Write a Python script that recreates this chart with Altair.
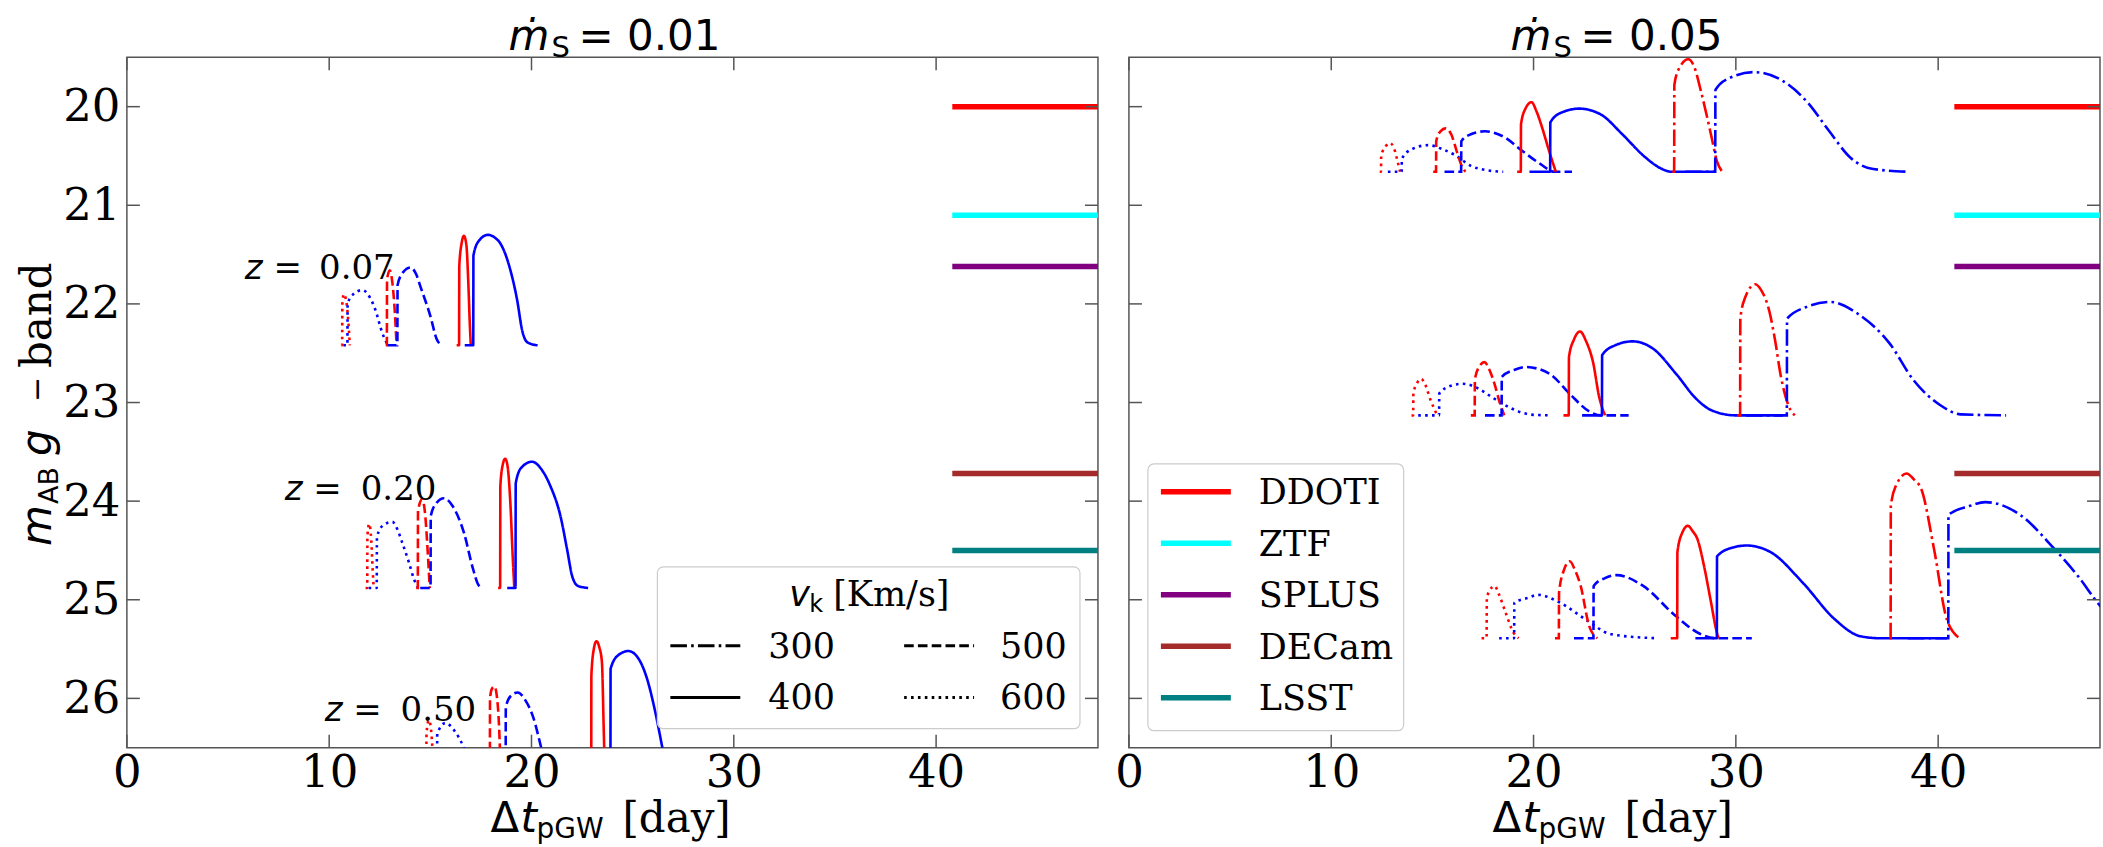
import altair as alt
import pandas as pd

# Axis ticks
x_ticks = [0, 10, 20, 30, 40]
y_ticks = [20, 21, 22, 23, 24, 25, 26]
x_domain = [0, 48]
y_domain = [19.5, 26.5]

# g-band light curves, (Δt_pGW [day], m_AB) pairs.
# ---- accretion rate ṁ_S = 0.01 ----
s001_z007_v600_red = [(10.60, 22.42), (10.64, 22.42), (10.65, 22.00), (10.72, 21.90), (10.85, 21.98), (10.97, 22.25), (11.02, 22.42)]
s001_z007_v600_blue = [(10.70, 22.42), (10.90, 22.42), (10.91, 22.00), (11.20, 21.90), (11.64, 21.86), (12.00, 21.93), (12.30, 22.07), (12.60, 22.28), (12.90, 22.42)]
s001_z007_v500_red = [(12.80, 22.42), (12.85, 22.42), (12.86, 21.75), (13.00, 21.66), (13.12, 21.78), (13.25, 22.10), (13.33, 22.42)]
s001_z007_v500_blue = [(12.90, 22.42), (13.37, 22.42), (13.38, 21.81), (13.65, 21.68), (14.02, 21.63), (14.30, 21.70), (14.52, 21.83), (15.01, 22.13), (15.30, 22.35), (15.55, 22.42)]
s001_z007_v400_red = [(16.30, 22.42), (16.42, 22.42), (16.43, 21.62), (16.55, 21.38), (16.66, 21.31), (16.78, 21.40), (16.88, 21.80), (16.95, 22.20), (17.00, 22.42)]
s001_z007_v400_blue = [(16.70, 22.42), (17.12, 22.42), (17.13, 21.51), (17.40, 21.36), (17.84, 21.30), (18.20, 21.33), (18.47, 21.39), (18.96, 21.66), (19.29, 21.96), (19.54, 22.27), (19.80, 22.39), (20.30, 22.42)]

s001_z020_v600_red = [(11.80, 24.88), (11.88, 24.88), (11.89, 24.35), (11.98, 24.23), (12.08, 24.40), (12.15, 24.70), (12.20, 24.88)]
s001_z020_v600_blue = [(11.95, 24.88), (12.35, 24.88), (12.36, 24.36), (12.70, 24.24), (13.12, 24.21), (13.40, 24.30), (13.61, 24.42), (13.94, 24.62), (14.19, 24.79), (14.40, 24.88)]
s001_z020_v500_red = [(14.30, 24.88), (14.38, 24.88), (14.39, 24.10), (14.60, 23.98), (14.75, 24.15), (14.88, 24.55), (14.97, 24.88)]
s001_z020_v500_blue = [(14.50, 24.88), (15.01, 24.88), (15.02, 24.15), (15.30, 24.02), (15.67, 23.97), (16.10, 24.05), (16.66, 24.32), (17.10, 24.68), (17.35, 24.84), (17.55, 24.88)]
s001_z020_v400_red = [(18.35, 24.88), (18.45, 24.88), (18.46, 23.85), (18.58, 23.63), (18.70, 23.57), (18.82, 23.65), (18.95, 24.00), (19.08, 24.60), (19.15, 24.88)]
s001_z020_v400_blue = [(18.80, 24.88), (19.21, 24.88), (19.22, 23.82), (19.50, 23.66), (20.03, 23.60), (20.50, 23.68), (20.94, 23.85), (21.43, 24.15), (21.76, 24.49), (22.01, 24.76), (22.30, 24.86), (22.80, 24.88)]

s001_z050_v600_red = [(14.78, 26.95), (14.80, 26.95), (14.81, 26.35), (14.93, 26.22), (15.05, 26.35), (15.20, 26.95)]
s001_z050_v600_blue = [(15.00, 26.95), (15.33, 26.95), (15.34, 26.36), (15.75, 26.25), (16.20, 26.33), (16.66, 26.50), (17.20, 26.80), (17.60, 26.95)]
s001_z050_v500_red = [(17.90, 26.95), (17.94, 26.95), (17.95, 26.00), (18.05, 25.90), (18.17, 25.88), (18.30, 26.00), (18.42, 26.40), (18.50, 26.95)]
s001_z050_v500_blue = [(18.30, 26.95), (18.72, 26.95), (18.73, 26.09), (19.00, 25.97), (19.32, 25.94), (19.70, 26.02), (20.10, 26.20), (20.48, 26.50), (20.90, 26.85), (21.30, 26.95)]
s001_z050_v400_red = [(22.90, 26.95), (22.95, 26.95), (22.96, 25.77), (23.08, 25.50), (23.21, 25.42), (23.35, 25.48), (23.48, 25.63), (23.57, 26.31), (23.65, 26.95)]
s001_z050_v400_blue = [(23.50, 26.95), (23.90, 26.95), (23.91, 25.70), (24.30, 25.56), (24.80, 25.52), (25.30, 25.60), (25.71, 25.80), (26.12, 26.14), (26.45, 26.48), (26.80, 26.85), (27.20, 26.95)]

# ---- accretion rate ṁ_S = 0.05 ----
s005_top_v600_red = [(12.40, 20.66), (12.46, 20.66), (12.47, 20.50), (12.70, 20.40), (12.90, 20.37), (13.10, 20.42), (13.25, 20.53), (13.40, 20.66)]
s005_top_v600_blue = [(12.80, 20.66), (13.48, 20.66), (13.49, 20.53), (14.00, 20.43), (14.80, 20.39), (15.48, 20.43), (16.19, 20.50), (16.90, 20.60), (17.70, 20.645), (18.50, 20.66)]
s005_top_v500_red = [(15.04, 20.66), (15.18, 20.66), (15.19, 20.35), (15.40, 20.25), (15.65, 20.22), (15.93, 20.28), (16.20, 20.45), (16.45, 20.60), (16.63, 20.66)]
s005_top_v500_blue = [(15.60, 20.66), (16.42, 20.66), (16.43, 20.35), (16.90, 20.28), (17.60, 20.25), (18.57, 20.31), (19.45, 20.45), (20.33, 20.58), (21.03, 20.66), (21.90, 20.66)]
s005_top_v400_red = [(19.19, 20.66), (19.37, 20.66), (19.38, 20.18), (19.60, 20.02), (19.90, 19.955), (20.15, 20.05), (20.42, 20.21), (20.77, 20.45), (21.10, 20.66)]
s005_top_v400_blue = [(19.80, 20.66), (20.82, 20.66), (20.83, 20.16), (21.38, 20.06), (22.27, 20.02), (23.33, 20.08), (24.39, 20.28), (25.45, 20.50), (26.33, 20.63), (26.80, 20.66), (28.97, 20.66)]
s005_top_v300_red = [(26.86, 20.66), (26.95, 20.66), (26.96, 19.78), (27.20, 19.61), (27.65, 19.52), (27.95, 19.60), (28.27, 19.84), (28.55, 20.08), (28.80, 20.31), (29.06, 20.55), (29.33, 20.66)]
s005_top_v300_blue = [(27.50, 20.66), (28.98, 20.66), (28.99, 19.83), (29.68, 19.71), (30.91, 19.65), (32.33, 19.74), (33.56, 19.96), (34.62, 20.25), (35.68, 20.52), (36.73, 20.63), (38.50, 20.66)]

s005_mid_v600_red = [(13.97, 23.13), (14.05, 23.13), (14.06, 22.91), (14.25, 22.80), (14.45, 22.76), (14.65, 22.82), (14.90, 22.97), (15.24, 23.13)]
s005_mid_v600_blue = [(14.30, 23.13), (15.33, 23.13), (15.34, 22.91), (15.92, 22.83), (16.51, 22.81), (17.29, 22.86), (17.90, 22.94), (18.46, 23.01), (19.24, 23.09), (20.00, 23.125), (20.79, 23.13)]
s005_mid_v500_red = [(16.90, 23.13), (17.09, 23.13), (17.10, 22.77), (17.30, 22.64), (17.58, 22.59), (17.80, 22.66), (18.07, 22.81), (18.30, 22.98), (18.55, 23.13)]
s005_mid_v500_blue = [(17.60, 23.13), (18.42, 23.13), (18.43, 22.74), (19.04, 22.67), (19.63, 22.64), (20.80, 22.71), (21.78, 22.91), (22.75, 23.09), (23.34, 23.13), (24.70, 23.13)]
s005_mid_v400_red = [(21.48, 23.13), (21.74, 23.13), (21.75, 22.54), (22.00, 22.36), (22.30, 22.28), (22.60, 22.38), (22.95, 22.60), (23.24, 22.94), (23.54, 23.13)]
s005_mid_v400_blue = [(22.40, 23.13), (23.38, 23.13), (23.39, 22.52), (24.03, 22.42), (24.90, 22.38), (25.88, 22.45), (27.05, 22.71), (28.03, 22.96), (28.81, 23.08), (29.98, 23.13), (32.33, 23.13)]
s005_mid_v300_red = [(30.07, 23.13), (30.21, 23.13), (30.22, 22.15), (30.47, 21.93), (30.96, 21.80), (31.25, 21.86), (31.65, 22.07), (31.94, 22.37), (32.23, 22.74), (32.62, 23.04), (32.91, 23.13)]
s005_mid_v300_blue = [(30.50, 23.13), (32.52, 23.13), (32.53, 22.15), (33.50, 22.03), (34.67, 21.98), (36.03, 22.10), (37.60, 22.40), (38.77, 22.77), (40.13, 23.03), (41.11, 23.12), (43.36, 23.13)]

s005_bot_v600_red = [(17.43, 25.39), (17.68, 25.39), (17.69, 24.99), (17.85, 24.90), (18.07, 24.86), (18.30, 24.95), (18.62, 25.13), (19.00, 25.33), (19.26, 25.39)]
s005_bot_v600_blue = [(18.30, 25.39), (19.04, 25.39), (19.05, 25.03), (19.74, 24.98), (20.21, 24.95), (21.31, 25.03), (22.58, 25.20), (23.84, 25.35), (26.05, 25.39)]
s005_bot_v500_red = [(21.06, 25.39), (21.25, 25.39), (21.26, 24.93), (21.50, 24.70), (21.79, 24.61), (22.05, 24.70), (22.33, 24.86), (22.74, 25.26), (23.15, 25.39)]
s005_bot_v500_blue = [(22.00, 25.39), (22.96, 25.39), (22.97, 24.86), (23.53, 24.78), (24.10, 24.75), (25.42, 24.86), (27.00, 25.16), (28.27, 25.35), (29.06, 25.39), (30.79, 25.39)]
s005_bot_v400_red = [(26.78, 25.39), (27.10, 25.39), (27.11, 24.52), (27.35, 24.32), (27.63, 24.25), (27.85, 24.30), (28.11, 24.39), (28.43, 24.66), (28.74, 24.99), (29.06, 25.33), (29.15, 25.39)]
s005_bot_v400_blue = [(28.00, 25.39), (29.06, 25.39), (29.07, 24.56), (29.85, 24.47), (30.54, 24.45), (31.74, 24.52), (33.32, 24.83), (34.90, 25.20), (36.16, 25.37), (37.12, 25.39), (40.43, 25.39)]
s005_bot_v300_red = [(37.60, 25.39), (37.65, 25.39), (37.66, 24.05), (37.90, 23.85), (38.44, 23.72), (38.80, 23.78), (39.17, 23.88), (39.80, 24.49), (40.43, 25.20), (41.06, 25.39)]
s005_bot_v300_blue = [(38.50, 25.39), (40.50, 25.39), (40.51, 24.14), (41.54, 24.05), (42.33, 24.01), (44.06, 24.14), (45.64, 24.46), (46.91, 24.76), (48.00, 25.06), (49.20, 25.30), (50.50, 25.39)]

# Survey limiting magnitudes
instr_names = ["DDOTI", "ZTF", "SPLUS", "DECam", "LSST"]
instr_mag = [20.0, 21.1, 21.62, 23.72, 24.5]
instr_colours = ["#ff0000", "#00ffff", "#800080", "#a52a2a", "#008080"]
instr_t_start = 40.8
instr_t_end = 48.0

# Kick velocities
vk_labels = ["300", "400", "500", "600"]

# Redshift annotations (left panel)
z_label_text = ["0.07", "0.20", "0.50"]
z_label_t_eq = [8.65, 10.62, 12.60]
z_label_t_num = [9.50, 11.56, 13.53]
z_label_m = [21.745, 23.985, 26.234]

curves_s001 = [
    ("600", "red", s001_z007_v600_red), ("600", "blue", s001_z007_v600_blue),
    ("500", "red", s001_z007_v500_red), ("500", "blue", s001_z007_v500_blue),
    ("400", "red", s001_z007_v400_red), ("400", "blue", s001_z007_v400_blue),
    ("600", "red", s001_z020_v600_red), ("600", "blue", s001_z020_v600_blue),
    ("500", "red", s001_z020_v500_red), ("500", "blue", s001_z020_v500_blue),
    ("400", "red", s001_z020_v400_red), ("400", "blue", s001_z020_v400_blue),
    ("600", "red", s001_z050_v600_red), ("600", "blue", s001_z050_v600_blue),
    ("500", "red", s001_z050_v500_red), ("500", "blue", s001_z050_v500_blue),
    ("400", "red", s001_z050_v400_red), ("400", "blue", s001_z050_v400_blue),
]
curves_s005 = [
    ("600", "red", s005_top_v600_red), ("600", "blue", s005_top_v600_blue),
    ("500", "red", s005_top_v500_red), ("500", "blue", s005_top_v500_blue),
    ("400", "red", s005_top_v400_red), ("400", "blue", s005_top_v400_blue),
    ("300", "red", s005_top_v300_red), ("300", "blue", s005_top_v300_blue),
    ("600", "red", s005_mid_v600_red), ("600", "blue", s005_mid_v600_blue),
    ("500", "red", s005_mid_v500_red), ("500", "blue", s005_mid_v500_blue),
    ("400", "red", s005_mid_v400_red), ("400", "blue", s005_mid_v400_blue),
    ("300", "red", s005_mid_v300_red), ("300", "blue", s005_mid_v300_blue),
    ("600", "red", s005_bot_v600_red), ("600", "blue", s005_bot_v600_blue),
    ("500", "red", s005_bot_v500_red), ("500", "blue", s005_bot_v500_blue),
    ("400", "red", s005_bot_v400_red), ("400", "blue", s005_bot_v400_blue),
    ("300", "red", s005_bot_v300_red), ("300", "blue", s005_bot_v300_blue),
]

# ---- styling ----
SANS, SERIF = "DejaVu Sans", "DejaVu Serif"
FRAME = "#555555"
W, H = 972, 691
TICK_LEN = 13
LINE_COLOURS = {"red": "#ff0000", "blue": "#0000ff"}
DASHES = {"300": [16.6, 4.2, 2.6, 4.2], "400": [1, 0], "500": [9.6, 4.2], "600": [2.6, 4.3]}
ONE = pd.DataFrame({"k": [0]})


def x_enc(field="t"):
    return alt.X(f"{field}:Q",
                 scale=alt.Scale(domain=x_domain, nice=False, zero=False),
                 axis=alt.Axis(values=x_ticks, format="d", labelFont=SERIF, labelFontSize=45,
                               labelColor="black", labelPadding=3, labelFlush=False,
                               ticks=False, tickSize=0, domain=False, grid=False, title=None))


def y_enc(show, field="m"):
    axis = (alt.Axis(values=y_ticks, format="d", labelFont=SERIF, labelFontSize=45,
                     labelColor="black", labelPadding=7, labelFlush=False,
                     ticks=False, tickSize=0, domain=False, grid=False, title=None)
            if show else None)
    return alt.Y(f"{field}:Q",
                 scale=alt.Scale(domain=y_domain, reverse=True, nice=False, zero=False),
                 axis=axis)


def curve_table(curves):
    rows = []
    for cid, (vk, comp, pts) in enumerate(curves):
        for i, (t, m) in enumerate(pts):
            rows.append({"cid": cid, "i": i, "t": t, "m": m, "vk": vk, "col": LINE_COLOURS[comp]})
    return pd.DataFrame(rows)


def label(text, x, y, font, size, italic=False, angle=0, align="left"):
    props = dict(text=text, font=font, fontSize=size, align=align,
                 baseline="alphabetic", color="black")
    if italic:
        props["fontStyle"] = "italic"
    if angle:
        props["angle"] = angle
    return alt.Chart(ONE).mark_text(**props).encode(x=alt.value(x), y=alt.value(y))


def rule_px(x, x2, y, y2, colour, width, dash=None):
    props = dict(color=colour, strokeWidth=width)
    if dash:
        props["strokeDash"] = dash
    return alt.Chart(ONE).mark_rule(**props).encode(
        x=alt.value(x), x2=alt.value(x2), y=alt.value(y), y2=alt.value(y2))


def panel(curves, mdot_text, left):
    show_y = left
    layers = []
    # page extent around the plot area
    layers.append(alt.Chart(ONE).mark_rect(opacity=0).encode(
        x=alt.value(-126 if left else -2), x2=alt.value(W if left else W + 2),
        y=alt.value(-56), y2=alt.value(H + 100)))

    layers.append(alt.Chart(curve_table(curves)).mark_line(
        clip=True, strokeWidth=2.6, interpolate="monotone").encode(
        x=x_enc(), y=y_enc(show_y),
        color=alt.Color("col:N", scale=None),
        strokeDash=alt.StrokeDash("vk:N", scale=alt.Scale(domain=list(DASHES), range=list(DASHES.values())), legend=None),
        detail="cid:N", order="i:Q"))

    instr = pd.DataFrame({"name": instr_names, "m": instr_mag, "col": instr_colours,
                          "t": [instr_t_start] * len(instr_names), "t2": [instr_t_end] * len(instr_names)})
    layers.append(alt.Chart(instr).mark_rule(clip=True, strokeWidth=5.5).encode(
        x=x_enc(), x2=alt.X2("t2:Q"), y=y_enc(show_y), color=alt.Color("col:N", scale=None)))

    # inward ticks on all four sides
    xt = pd.DataFrame({"t": x_ticks})
    yt = pd.DataFrame({"m": y_ticks})
    tick = dict(color=FRAME, strokeWidth=1.5)
    layers.append(alt.Chart(xt).mark_rule(**tick).encode(x=x_enc(), y=alt.value(0), y2=alt.value(TICK_LEN)))
    layers.append(alt.Chart(xt).mark_rule(**tick).encode(x=x_enc(), y=alt.value(H), y2=alt.value(H - TICK_LEN)))
    layers.append(alt.Chart(yt).mark_rule(**tick).encode(y=y_enc(show_y), x=alt.value(0), x2=alt.value(TICK_LEN)))
    layers.append(alt.Chart(yt).mark_rule(**tick).encode(y=y_enc(show_y), x=alt.value(W - TICK_LEN), x2=alt.value(W)))

    if left:
        zdf = pd.DataFrame({"z": z_label_text, "t_eq": z_label_t_eq, "t_num": z_label_t_num, "m": z_label_m})
        layers.append(alt.Chart(zdf).mark_text(font=SANS, fontStyle="italic", fontSize=34, align="right",
                                               baseline="alphabetic", text="z =").encode(
            x=x_enc("t_eq"), y=y_enc(show_y)))
        layers.append(alt.Chart(zdf).mark_text(font=SERIF, fontSize=34, align="left",
                                               baseline="alphabetic").encode(
            x=x_enc("t_num"), y=y_enc(show_y), text="z:N"))

        # kick-velocity legend
        layers.append(alt.Chart(ONE).mark_rect(fill="white", fillOpacity=0.8, stroke="#cccccc",
                                               strokeWidth=1.2, cornerRadius=6).encode(
            x=alt.value(531), x2=alt.value(954), y=alt.value(510), y2=alt.value(672)))
        layers.append(label("v", 663, 549, SANS, 35, italic=True))
        layers.append(label("k", 683, 555, SANS, 24))
        layers.append(label("[Km/s]", 707, 549, SERIF, 35))
        for i, vk in enumerate(vk_labels):
            col, row = i // 2, i % 2
            yy = 589 + 51.7 * row
            layers.append(rule_px(544 + 234 * col, 614 + 234 * col, yy, yy, "black", 3, DASHES[vk]))
            layers.append(label(vk, 642 + 232 * col, yy + 12, SERIF, 35))

        # vertical axis title: m_AB g − band
        layers.append(label("m", -76, 489, SANS, 42, italic=True, angle=270))
        layers.append(label("AB", -69, 447, SANS, 27, angle=270))
        layers.append(label("g", -76, 399, SANS, 42, italic=True, angle=270))
        layers.append(label("\u2212", -80, 345, SANS, 30, angle=270))
        layers.append(label("band", -76, 311, SERIF, 42, angle=270))
    else:
        # survey legend
        layers.append(alt.Chart(ONE).mark_rect(fill="white", fillOpacity=0.8, stroke="#cccccc",
                                               strokeWidth=1.2, cornerRadius=6).encode(
            x=alt.value(19), x2=alt.value(275), y=alt.value(407), y2=alt.value(674)))
        for i, (name, colour) in enumerate(zip(instr_names, instr_colours)):
            yy = 434.7 + 51.6 * i
            layers.append(rule_px(32, 102, yy, yy, colour, 5.5))
            layers.append(label(name, 130, yy + 12.5, SERIF, 35))

    # panel title: ṁ_S = value
    layers.append(label("\u1e41", 382, -7, SANS, 42, italic=True))
    layers.append(label("S", 425, 0, SANS, 29))
    layers.append(label("= " + mdot_text, 452, -7, SANS, 42))

    # horizontal axis title: Δt_pGW [day]
    layers.append(label("\u0394", 364, 775, SANS, 42))
    layers.append(label("t", 394, 775, SANS, 42, italic=True))
    layers.append(label("pGW", 410, 781, SANS, 28))
    layers.append(label("[day]", 496, 775, SERIF, 42))

    return alt.layer(*layers).properties(width=W, height=H)


left_panel = panel(curves_s001, "0.01", True)
right_panel = panel(curves_s005, "0.05", False)

chart = alt.hconcat(left_panel, right_panel, spacing=31, bounds="flush").properties(
    padding=0, background="white"
).configure_view(stroke=FRAME, strokeWidth=1.5)

chart.save("out.html", embed_options={"renderer": "svg", "actions": False})
